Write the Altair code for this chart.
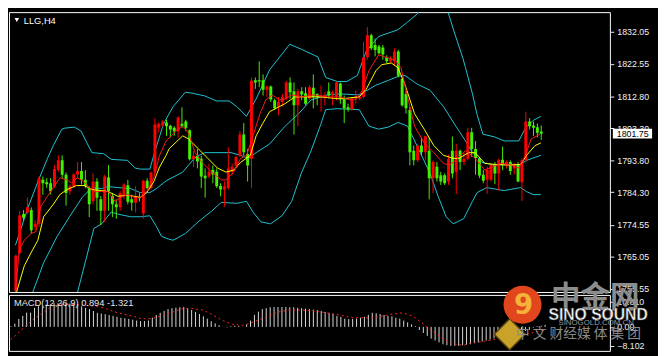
import altair as alt
import pandas as pd

# ---------------- data ----------------
opens = [1755.0, 1766.2, 1777.8, 1778.3, 1779.0, 1774.0, 1774.9, 1788.0, 1787.3, 1787.0,
         1786.1, 1790.9, 1793.8, 1789.5, 1784.6, 1786.1, 1789.6, 1790.6, 1788.0, 1785.6,
         1781.7, 1787.5, 1782.2, 1778.8, 1788.7, 1783.2, 1780.7, 1779.8, 1783.2, 1786.4,
         1782.2, 1781.2, 1782.9, 1778.0, 1787.7, 1785.6, 1790.4, 1803.5, 1804.2, 1805.1,
         1804.1, 1803.5, 1802.5, 1804.7, 1805.4, 1802.8, 1794.1, 1795.0, 1794.3, 1789.2,
         1789.0, 1790.9, 1790.4, 1786.2, 1785.1, 1785.6, 1790.4, 1792.3, 1795.2, 1801.5,
         1795.7, 1794.3, 1817.7, 1817.7, 1817.7, 1814.8, 1815.8, 1811.7, 1809.8, 1811.2,
         1812.2, 1817.0, 1814.4, 1810.2, 1814.4, 1813.8, 1812.2, 1815.4, 1813.6, 1812.7,
         1812.7, 1814.4, 1813.1, 1812.7, 1816.7, 1812.2, 1809.6, 1809.0, 1812.4, 1812.2,
         1812.7, 1824.5, 1831.1, 1828.2, 1827.7, 1827.4, 1824.5, 1823.3, 1823.3, 1826.2,
         1818.0, 1813.6, 1808.8, 1796.7, 1793.8, 1798.2, 1796.2, 1796.7, 1788.5, 1791.9,
         1789.4, 1789.4, 1787.5, 1796.7, 1790.4, 1796.7, 1793.3, 1794.3, 1802.2, 1797.2,
         1794.3, 1789.5, 1788.0, 1788.0, 1792.4, 1789.9, 1794.0, 1792.4, 1793.3, 1791.4,
         1792.4, 1787.3, 1793.8, 1805.4, 1804.2, 1803.7, 1802.4]
highs = [1765.7, 1778.8, 1779.0, 1782.7, 1779.8, 1776.0, 1789.0, 1789.0, 1788.5, 1788.5,
         1792.4, 1795.3, 1795.3, 1790.2, 1786.6, 1789.9, 1793.3, 1793.3, 1790.9, 1786.1,
         1789.9, 1788.5, 1783.2, 1789.5, 1792.4, 1784.1, 1782.2, 1784.6, 1787.0, 1788.0,
         1783.6, 1786.1, 1784.0, 1788.0, 1788.5, 1790.4, 1806.4, 1805.1, 1805.8, 1805.9,
         1804.4, 1804.0, 1806.9, 1809.6, 1805.9, 1803.0, 1796.7, 1797.2, 1795.2, 1791.4,
         1792.8, 1792.3, 1791.4, 1787.0, 1787.5, 1797.7, 1792.8, 1795.2, 1802.5, 1804.9,
         1797.2, 1818.5, 1818.5, 1823.3, 1819.4, 1816.1, 1816.1, 1812.2, 1812.7, 1813.6,
         1817.5, 1818.5, 1817.0, 1815.1, 1815.6, 1815.6, 1816.1, 1819.4, 1813.8, 1816.1,
         1814.1, 1817.0, 1814.6, 1817.2, 1817.0, 1813.1, 1810.7, 1812.7, 1814.6, 1813.6,
         1829.1, 1833.5, 1831.5, 1830.1, 1828.2, 1828.2, 1825.1, 1824.8, 1827.2, 1826.7,
         1818.5, 1814.6, 1809.8, 1798.2, 1798.6, 1800.6, 1801.1, 1800.6, 1793.8, 1793.3,
         1790.4, 1789.9, 1795.5, 1800.9, 1798.7, 1797.0, 1796.2, 1803.5, 1803.5, 1799.6,
         1794.8, 1790.9, 1791.9, 1792.8, 1793.3, 1794.3, 1797.9, 1793.8, 1793.8, 1793.1,
         1793.3, 1794.3, 1808.3, 1806.4, 1805.4, 1804.8, 1804.2]
lows = [1754.8, 1765.7, 1775.9, 1777.8, 1772.0, 1773.0, 1774.0, 1783.6, 1785.6, 1783.6,
        1785.6, 1790.4, 1788.5, 1780.3, 1783.6, 1785.6, 1788.5, 1786.6, 1785.6, 1776.9,
        1780.7, 1778.8, 1774.5, 1775.4, 1778.8, 1776.9, 1776.4, 1778.8, 1782.2, 1780.7,
        1778.8, 1778.3, 1781.5, 1776.4, 1785.1, 1785.1, 1789.9, 1802.0, 1803.8, 1801.1,
        1800.6, 1801.1, 1800.6, 1803.5, 1802.5, 1793.8, 1791.8, 1791.4, 1785.6, 1782.7,
        1788.5, 1787.0, 1785.6, 1783.1, 1780.0, 1785.1, 1789.4, 1791.4, 1794.8, 1795.2,
        1787.5, 1785.6, 1815.1, 1815.6, 1813.1, 1812.7, 1811.2, 1808.8, 1807.3, 1809.8,
        1811.7, 1812.2, 1801.5, 1804.0, 1811.7, 1810.2, 1811.7, 1809.3, 1810.2, 1808.3,
        1810.2, 1812.2, 1810.2, 1811.7, 1810.7, 1804.9, 1808.3, 1808.6, 1810.7, 1811.7,
        1812.2, 1823.8, 1826.7, 1824.8, 1825.3, 1823.8, 1822.8, 1822.8, 1821.9, 1818.5,
        1809.8, 1807.8, 1792.3, 1792.3, 1793.3, 1795.2, 1793.8, 1782.2, 1784.1, 1787.5,
        1786.5, 1786.5, 1786.5, 1788.5, 1783.8, 1790.9, 1792.4, 1793.8, 1794.8, 1789.5,
        1788.5, 1787.0, 1783.8, 1787.5, 1786.7, 1784.8, 1790.9, 1791.4, 1789.5, 1789.6,
        1787.3, 1781.7, 1793.3, 1803.0, 1801.1, 1800.6, 1799.9]
closes = [1765.4, 1777.4, 1776.7, 1779.8, 1773.0, 1774.9, 1788.5, 1787.0, 1786.7, 1784.6,
          1791.2, 1793.8, 1789.5, 1784.1, 1786.1, 1789.6, 1790.6, 1788.0, 1786.1, 1780.7,
          1787.5, 1782.7, 1778.8, 1789.0, 1784.6, 1780.7, 1779.8, 1784.1, 1786.6, 1781.5,
          1781.2, 1783.2, 1782.5, 1787.7, 1785.6, 1790.2, 1804.5, 1804.7, 1805.4, 1804.0,
          1803.0, 1802.5, 1806.6, 1804.0, 1803.5, 1794.1, 1795.2, 1793.5, 1789.0, 1788.5,
          1790.4, 1789.6, 1786.1, 1785.1, 1786.0, 1791.4, 1791.9, 1794.8, 1801.5, 1796.2,
          1792.3, 1817.5, 1817.0, 1817.3, 1814.8, 1815.8, 1811.9, 1809.3, 1811.2, 1812.7,
          1817.0, 1814.1, 1810.2, 1814.4, 1813.4, 1810.7, 1815.6, 1812.7, 1812.7, 1813.1,
          1813.2, 1813.1, 1814.1, 1817.0, 1812.2, 1809.3, 1809.0, 1812.2, 1812.9, 1812.7,
          1824.5, 1831.1, 1827.2, 1826.7, 1825.7, 1825.3, 1823.3, 1824.3, 1826.2, 1819.0,
          1810.2, 1809.3, 1796.2, 1793.8, 1798.2, 1796.2, 1801.0, 1788.5, 1793.3, 1788.5,
          1787.5, 1787.0, 1794.3, 1789.9, 1796.7, 1793.3, 1794.3, 1802.2, 1797.2, 1794.5,
          1789.3, 1787.7, 1790.9, 1792.4, 1789.9, 1794.0, 1792.6, 1793.3, 1790.6, 1792.6,
          1787.5, 1793.8, 1805.4, 1804.0, 1803.5, 1802.0, 1801.75]

# Bollinger bands and moving averages (bar position, price)
upper_i = [0.9, 4.2, 6.7, 9.2, 10.7, 12.9, 13.7, 16.2, 17.9, 19.4, 20.7, 23.7, 25.7, 29.9, 31.9, 33.2,
           35.7, 36.9, 39.2, 41.7, 44.9, 46.7, 49.9, 52.9, 56.2, 58.2, 60.7, 63.2, 66.7, 71.9, 74.9,
           79.2, 81.2, 84.2, 86.7, 89.4, 91.7, 94.9, 99.9, 102.4, 104.9, 108.7, 112.9, 114.2, 116.7,
           117.4, 119.2, 120.4, 121.9, 124.9, 127.4, 131.2, 132.9, 134.9, 136.9]
upper_v = [1768.5, 1779.9, 1787.4, 1794.4, 1798.2, 1803.1, 1803.4, 1803.7, 1802.5, 1799.0, 1796.1,
           1795.8, 1794.1, 1793.8, 1791.5, 1791.2, 1791.2, 1796.1, 1804.6, 1809.8, 1814.1, 1813.8,
           1813.0, 1811.5, 1811.5, 1809.8, 1806.9, 1812.1, 1820.8, 1828.4, 1826.9, 1824.6, 1818.5,
           1817.3, 1817.3, 1819.1, 1826.3, 1830.7, 1832.7, 1835.0, 1837.4, 1843.5, 1837.9, 1833.0,
           1824.3, 1821.4, 1813.6, 1807.4, 1801.6, 1800.8, 1799.6, 1799.6, 1803.4, 1805.7, 1806.9]
middle_i = [0.9, 5.4, 8.2, 11.7, 14.9, 18.2, 20.7, 23.2, 24.9, 27.4, 30.7, 33.2, 35.7, 37.4, 39.9,
            44.2, 47.4, 49.9, 56.7, 59.2, 61.2, 63.2, 66.7, 70.7, 74.2, 77.4, 81.7, 84.9, 89.9, 94.2,
            97.4, 99.9, 101.7, 104.9, 108.2, 111.7, 114.9, 117.4, 119.2, 121.7, 124.9, 131.7, 133.2,
            136.9]
middle_v = [1740.7, 1754.6, 1763.3, 1771.2, 1777.0, 1782.8, 1785.7, 1785.4, 1786.0, 1785.7, 1785.4,
            1784.2, 1784.2, 1785.4, 1787.7, 1790.3, 1794.7, 1796.1, 1796.1, 1795.3, 1794.4, 1796.1,
            1798.7, 1804.0, 1807.7, 1811.8, 1813.3, 1813.6, 1813.3, 1816.2, 1817.6, 1818.8, 1819.1,
            1816.5, 1814.7, 1809.8, 1804.0, 1799.6, 1796.1, 1793.2, 1792.4, 1792.6, 1793.8, 1795.3]
lower_i = [13.7, 17.0, 21.2, 23.2, 25.7, 27.4, 30.7, 33.2, 35.7, 37.4, 38.7, 39.9, 41.7, 44.9, 48.2,
           51.7, 54.2, 58.2, 60.7, 62.4, 64.4, 66.9, 69.9, 72.4, 74.9, 77.4, 79.9, 81.2, 84.2, 89.9,
           92.4, 94.9, 97.4, 99.9, 102.4, 104.9, 108.2, 110.4, 112.4, 114.2, 116.9, 119.2, 120.4,
           122.9, 127.4, 131.7, 133.2, 134.9, 136.9]
lower_v = [1740.1, 1754.6, 1773.5, 1774.9, 1778.4, 1777.8, 1777.0, 1777.0, 1777.3, 1774.1, 1771.2,
           1770.6, 1770.0, 1772.0, 1775.5, 1778.7, 1781.3, 1781.0, 1781.6, 1778.4, 1775.5, 1774.9,
           1777.3, 1781.6, 1790.0, 1796.6, 1804.4, 1808.9, 1809.2, 1808.9, 1804.0, 1803.1, 1803.7,
           1805.1, 1804.0, 1798.0, 1790.0, 1782.8, 1777.0, 1774.9, 1776.4, 1781.6, 1784.2, 1785.7,
           1784.8, 1785.7, 1784.5, 1783.6, 1783.6]
fast_i = [0.9, 1.9, 3.2, 4.9, 6.2, 7.4, 9.2, 10.7, 12.4, 14.2, 15.4, 16.9, 18.7, 20.4, 21.7, 24.9,
          26.7, 28.2, 29.9, 31.7, 33.2, 34.9, 36.7, 38.2, 39.9, 42.4, 44.2, 45.7, 47.4, 49.2, 51.7,
          54.2, 55.4, 57.4, 59.2, 60.7, 62.4, 64.2, 65.7, 67.4, 69.2, 70.7, 72.4, 74.9, 78.2, 81.7,
          84.9, 87.4, 89.2, 90.7, 92.4, 94.9, 97.4, 99.2, 100.7, 102.4, 104.2, 106.7, 109.2, 111.7,
          113.2, 114.9, 117.4, 119.9, 122.4, 124.2, 126.7, 129.2, 131.2, 132.9, 134.4, 136.7]
fast_v = [1754.6, 1767.1, 1770.0, 1772.0, 1772.6, 1779.9, 1783.1, 1785.7, 1788.6, 1788.0, 1787.1,
          1788.6, 1787.4, 1785.1, 1784.5, 1784.5, 1781.6, 1782.8, 1783.6, 1782.8, 1782.8, 1784.5,
          1788.6, 1795.3, 1799.6, 1802.5, 1804.0, 1801.9, 1796.1, 1793.2, 1790.3, 1788.0, 1788.0,
          1790.3, 1794.4, 1795.3, 1801.1, 1807.7, 1811.8, 1813.3, 1811.8, 1812.1, 1813.3, 1812.7,
          1813.3, 1812.7, 1812.7, 1811.8, 1812.1, 1814.7, 1820.5, 1825.2, 1824.3, 1823.7, 1821.4,
          1812.7, 1804.0, 1799.0, 1796.1, 1792.9, 1792.4, 1793.8, 1796.7, 1794.4, 1790.9, 1791.8,
          1792.9, 1792.4, 1791.5, 1795.3, 1800.2, 1801.6]
slow_i = [1.2, 3.2, 4.9, 6.7, 8.2, 10.7, 12.4, 14.2, 16.7, 18.7, 20.7, 23.2, 24.9, 27.4, 29.9, 33.2,
          34.9, 36.7, 38.2, 39.9, 40.7, 44.2, 45.7, 48.2, 50.7, 53.2, 55.4, 57.4, 59.2, 61.7, 63.2,
          64.9, 66.7, 69.2, 70.7, 73.2, 77.4, 79.9, 84.9, 89.9, 91.7, 94.2, 95.7, 98.2, 99.9, 101.7,
          104.2, 106.7, 109.2, 111.7, 114.2, 115.7, 118.2, 119.9, 122.4, 124.9, 129.2, 131.7, 133.2,
          135.4, 136.9]
slow_v = [1754.6, 1762.4, 1766.2, 1770.0, 1777.0, 1780.7, 1783.6, 1785.1, 1786.3, 1786.3, 1785.1,
          1784.8, 1784.5, 1783.1, 1783.4, 1782.8, 1784.2, 1787.4, 1791.8, 1795.3, 1797.3, 1801.1,
          1800.2, 1797.3, 1794.4, 1791.5, 1790.3, 1790.9, 1793.2, 1795.3, 1801.1, 1804.8, 1808.3,
          1809.8, 1810.7, 1812.7, 1812.7, 1812.7, 1812.1, 1812.7, 1815.0, 1820.5, 1822.3, 1822.8,
          1821.4, 1816.5, 1807.7, 1803.1, 1798.2, 1795.3, 1794.4, 1794.4, 1796.1, 1796.1, 1792.9,
          1792.6, 1792.4, 1792.6, 1795.3, 1798.2, 1799.0]

# MACD(12,26,9): histogram per bar and signal line
macd_hist = [0.3, 1.4, 3.4, 4.7, 6.1, 6.1, 8.1, 8.8, 8.8, 9.5,
             9.5, 10.1, 10.1, 10.1, 10.1, 10.0, 10.0, 9.6, 8.8, 8.1,
             7.6, 6.8, 6.0, 5.7, 5.4, 5.1, 4.7, 4.3, 3.9, 3.7,
             3.4, 3.1, 2.7, 2.5, 2.5, 2.7, 3.9, 5.1, 6.0, 6.8,
             7.6, 8.0, 8.2, 8.4, 8.5, 8.0, 7.2, 6.4, 5.5, 4.5,
             3.5, 2.4, 1.5, 0.7, 0.05, -0.2, 0.3, 0.5, 0.4, 0.1,
             1.1, 2.7, 5.1, 6.5, 7.6, 8.0, 8.4, 8.5, 8.5, 8.5,
             8.5, 8.4, 8.4, 8.2, 8.0, 7.8, 7.6, 7.4, 7.2, 6.8,
             6.4, 6.0, 5.5, 4.7, 4.3, 3.5, 3.3, 3.4, 3.6, 3.9,
             4.3, 5.1, 6.0, 5.8, 5.5, 5.1, 4.7, 4.5, 3.9, 3.5,
             2.7, 1.9, 1.1, 0.3, -1.3, -2.6, -3.8, -5.0, -5.8, -6.6,
             -7.4, -7.8, -8.1, -8.1, -8.1, -7.8, -7.6, -7.4, -7.0, -6.6,
             -6.2, -5.8, -5.4, -4.9, -4.2, -3.8, -3.4, -3.0, -2.6, -2.1,
             -1.9, -1.7, -1.3, -0.3, 0.3, 0.5, 0.894]
signal_i = [0.9, 2.9, 4.9, 6.9, 9.2, 10.7, 12.4, 14.9, 17.4, 19.9, 22.4, 24.9, 26.7, 28.2, 31.7, 34.2,
            36.7, 39.2, 41.7, 44.2, 46.7, 48.2, 49.9, 52.4, 54.9, 57.4, 59.9, 61.9, 64.2, 66.7, 69.2,
            71.7, 74.9, 78.2, 81.2, 83.2, 85.7, 88.2, 90.7, 93.2, 95.7, 98.2, 100.7, 103.2, 104.9,
            106.9, 108.9, 111.4, 113.9, 116.4, 118.9, 121.4, 123.9, 126.4, 128.7, 132.4, 136.9]
signal_v = [-5.4, -2.6, 0.7, 3.5, 6.0, 8.0, 9.6, 9.6, 9.6, 9.2, 8.8, 8.0, 6.8, 6.0, 4.7, 3.5,
            3.5, 4.7, 6.0, 7.6, 8.0, 7.6, 7.2, 5.1, 2.7, 1.1, 0.7, 1.5, 3.1, 4.7, 6.4,
            7.2, 7.2, 6.8, 6.0, 5.5, 4.7, 3.9, 3.9, 3.9, 4.7, 5.5, 6.0, 4.7, 2.7,
            -0.1, -2.6, -5.4, -7.4, -7.8, -6.6, -6.2, -5.4, -4.6, -4.6, -3.0, -1.321]

price_ticks = [1832.05, 1822.55, 1812.80, 1803.30, 1793.80, 1784.30, 1774.55, 1765.05, 1755.55]
macd_ticks = [10.81, 0.0, -8.102]
last_price = 1801.75
symbol_label = "LLG,H4"
macd_label = "MACD(12,26,9) 0.894 -1.321"

# ---------------- styling ----------------
BG = "#000000"
UP = "#ff0000"
DOWN = "#44f000"
BAND = "#20c4d4"
FAST = "#ff1a1a"
SLOW = "#ffff00"
TXT = "#f0f0f0"
FONT = "Liberation Sans"

n = len(closes)
cdf = pd.DataFrame({"i": list(range(1, n + 1)), "o": opens, "h": highs, "l": lows, "c": closes})
cdf["dir"] = ["up" if c >= o else "down" for o, c in zip(opens, closes)]

xs = alt.Scale(domain=[0.5, 153.5], nice=False, zero=False)
ys = alt.Scale(domain=[1754.6, 1837.95], nice=False, zero=False)
ms = alt.Scale(domain=[-10.24, 13.64], nice=False, zero=False)

yaxis = alt.Axis(orient="right", values=price_ticks, format=".2f", grid=False, domain=False,
                 ticks=True, tickSize=4, tickColor=TXT, labelColor=TXT, labelFont=FONT,
                 labelFontSize=9, labelPadding=3, labelOverlap=False, labelBound=False,
                 labelFlush=False, title=None)
maxis = alt.Axis(orient="right", values=macd_ticks,
                 labelExpr="datum.value == 0 ? '0.00' : format(datum.value, '.3f')",
                 grid=False, domain=False, ticks=True, tickSize=4, tickColor=TXT,
                 labelColor=TXT, labelFont=FONT, labelFontSize=9, labelPadding=3,
                 labelOverlap=False, labelBound=False, labelFlush=False, title=None)

X = alt.X("i:Q", scale=xs, axis=None)
col = alt.Color("dir:N", scale=alt.Scale(domain=["up", "down"], range=[UP, DOWN]), legend=None)

wicks = alt.Chart(cdf).mark_rule(strokeWidth=1, clip=True).encode(
    x=X, y=alt.Y("l:Q", scale=ys, axis=yaxis), y2="h:Q", color=col)
bodies = alt.Chart(cdf).mark_bar(size=3, clip=True).encode(
    x=X, y=alt.Y("o:Q", scale=ys, axis=yaxis), y2="c:Q", color=col)


def line(ix, vals, color):
    df = pd.DataFrame({"i": ix, "v": vals})
    return alt.Chart(df).mark_line(color=color, strokeWidth=1, clip=True).encode(
        x=X, y=alt.Y("v:Q", scale=ys, axis=yaxis))


upper = line(upper_i, upper_v, BAND)
middle = line(middle_i, middle_v, BAND)
lower = line(lower_i, lower_v, BAND)
fast = line(fast_i, fast_v, FAST)
slow = line(slow_i, slow_v, SLOW)

pdf = pd.DataFrame({"p": [last_price], "t": [f"{last_price:.2f}"]})
pbox = alt.Chart(pdf).mark_rule(color="#ffffff", strokeWidth=10).encode(
    x=alt.value(615), x2=alt.value(655), y=alt.Y("p:Q", scale=ys, axis=yaxis))
ptext = alt.Chart(pdf).mark_text(color="#000000", align="left", baseline="middle",
                                 font=FONT, fontSize=9).encode(
    x=alt.value(619), y=alt.Y("p:Q", scale=ys, axis=yaxis), text="t:N")

tdf = pd.DataFrame({"t": [symbol_label]})
ttext = alt.Chart(tdf).mark_text(color="#ffffff", align="left", baseline="middle",
                                 font=FONT, fontSize=9.5).encode(
    x=alt.value(15), y=alt.value(9), text="t:N")
tri = alt.Chart(tdf).mark_point(shape="triangle-down", filled=True, color="#ffffff",
                                size=22, opacity=1).encode(x=alt.value(8), y=alt.value(8))

main = alt.layer(upper, middle, lower, wicks, bodies, slow, fast, pbox, ptext, tri, ttext).properties(
    width=612, height=285)

hdf = pd.DataFrame({"i": list(range(1, n + 1)), "v": macd_hist})
hist = alt.Chart(hdf).mark_rule(color="#d8d8d8", strokeWidth=1).encode(
    x=X, y=alt.Y("v:Q", scale=ms, axis=maxis), y2=alt.datum(0))
sdf = pd.DataFrame({"i": signal_i, "v": signal_v})
sig = alt.Chart(sdf).mark_line(color="#ff2020", strokeWidth=1, strokeDash=[2, 3], clip=True).encode(
    x=X, y=alt.Y("v:Q", scale=ms, axis=maxis))
mdf = pd.DataFrame({"t": [macd_label]})
mtext = alt.Chart(mdf).mark_text(color="#e6e6e6", align="left", baseline="middle",
                                 font=FONT, fontSize=9.5).encode(
    x=alt.value(5), y=alt.value(8), text="t:N")

# watermark logo
logo_df = pd.DataFrame({"a": [0]})
diamond = alt.Chart(logo_df).mark_point(shape="diamond", filled=True, color="#c9a22a",
                                        stroke="#5a4210", strokeWidth=1.5, size=1000,
                                        opacity=1).encode(x=alt.value(510), y=alt.value(40))
circle = alt.Chart(logo_df).mark_point(shape="circle", filled=True, color="#e2461c",
                                       size=1500, opacity=1).encode(x=alt.value(523), y=alt.value(10))
swirl = alt.Chart(pd.DataFrame({"t": ["9"]})).mark_text(
    color="#f6b23a", font="DejaVu Sans", fontSize=28, fontWeight="bold",
    align="center", baseline="middle").encode(x=alt.value(524), y=alt.value(11), text="t:N")
cn_big = alt.Chart(pd.DataFrame({"t": ["中金网"]})).mark_text(
    color="#8c8c8c", font="Noto Sans CJK SC", fontSize=30, fontWeight="bold",
    align="center", baseline="middle").encode(x=alt.value(597), y=alt.value(3), text="t:N")
sino = alt.Chart(pd.DataFrame({"t": ["SINO SOUND"]})).mark_text(
    color="#ffffff", font=FONT, fontSize=16, fontWeight="bold", stroke="#404040",
    strokeWidth=0.6, align="center", baseline="middle").encode(
    x=alt.value(600), y=alt.value(21), text="t:N")
site = alt.Chart(pd.DataFrame({"t": ["SINOGOLD.COM.CN"]})).mark_text(
    color="#9a9a9a", font=FONT, fontSize=8, align="center", baseline="middle").encode(
    x=alt.value(598), y=alt.value(29), text="t:N")
cn_small = alt.Chart(pd.DataFrame({"t": ["中 文 财经媒 体 集 团"]})).mark_text(
    color="#8a8a8a", font="Noto Sans CJK SC", fontSize=14, align="center",
    baseline="middle").encode(x=alt.value(580), y=alt.value(40), text="t:N")

macd = alt.layer(hist, sig, mtext, diamond, circle, swirl, cn_big, sino, site, cn_small).properties(
    width=612, height=57)

chart = alt.vconcat(main, macd, spacing=3, bounds="flush").properties(
    background=BG, padding=0
).configure_view(stroke="#ffffff", strokeWidth=1, fill=BG)

chart.save("out.html", embed_options={"renderer": "svg", "actions": False})
